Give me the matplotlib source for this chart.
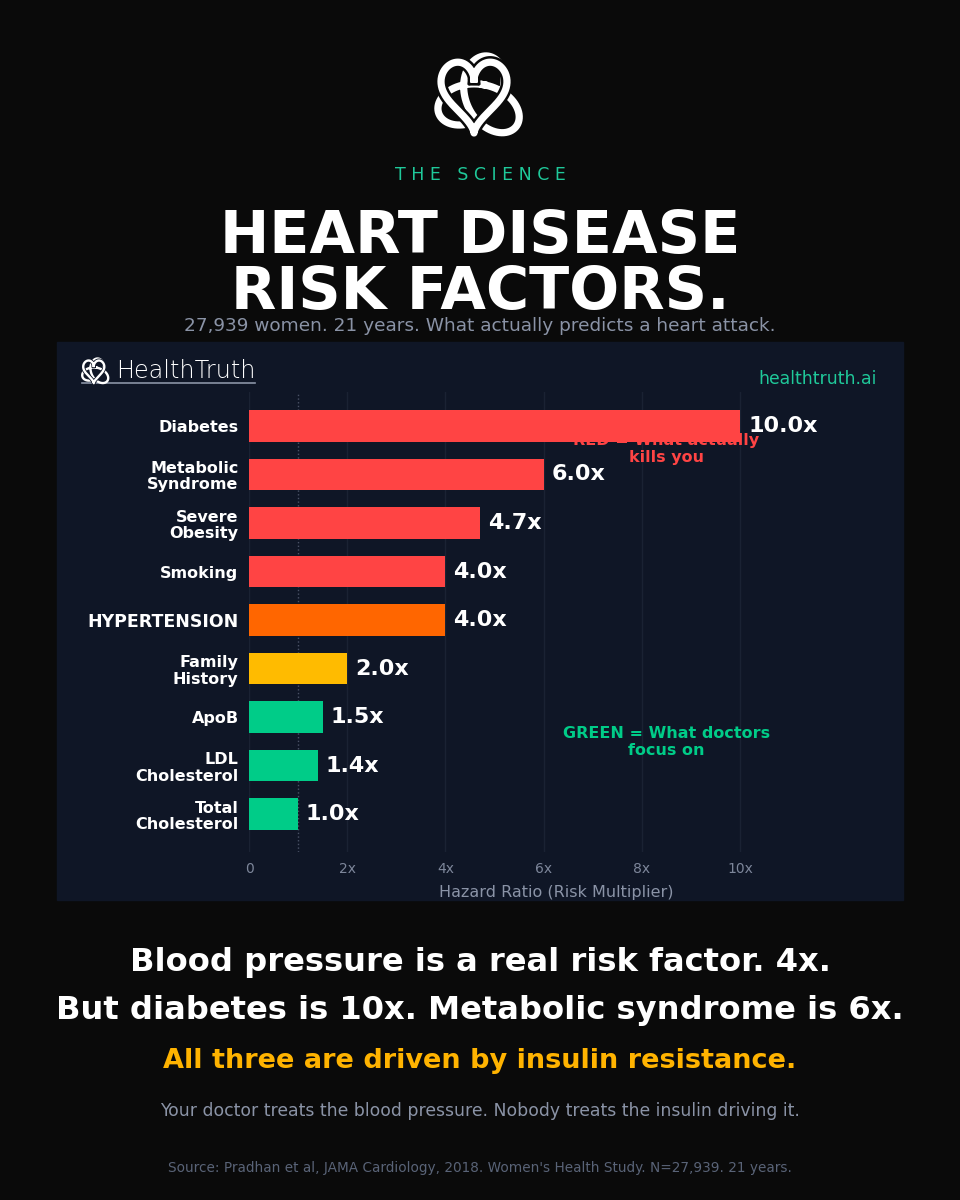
import numpy as np
import matplotlib.pyplot as plt
from matplotlib.patches import Rectangle
import matplotlib.patheffects as pe

plt.rcParams['font.family'] = ['DejaVu Sans']

# ---------------- data ----------------
categories = ["Diabetes", "Metabolic\nSyndrome", "Severe\nObesity", "Smoking",
              "HYPERTENSION", "Family\nHistory", "ApoB", "LDL\nCholesterol",
              "Total\nCholesterol"]
values = [10.0, 6.0, 4.7, 4.0, 4.0, 2.0, 1.5, 1.4, 1.0]
bar_colors = ['#ff4444', '#ff4444', '#ff4444', '#ff4444', '#ff6600',
              '#ffbb00', '#00cc88', '#00cc88', '#00cc88']
tick_vals = [0, 2, 4, 6, 8, 10]
tick_labels = ["0", "2x", "4x", "6x", "8x", "10x"]

BG = '#0a0a0a'
PANEL = '#0f1626'
W, H = 960, 1200


def fy(px):
    return 1 - px / H


def fx(px):
    return px / W


fig = plt.figure(figsize=(9.6, 12), dpi=100, facecolor=BG)

# panel
fig.add_artist(Rectangle((fx(57), fy(900)), 846 / W, 558 / H,
                         transform=fig.transFigure, color=PANEL, zorder=0))

# ---------------- logo (decorative) ----------------
over = fig.add_axes([0, 0, 1, 1], zorder=10)
over.set_xlim(0, W)
over.set_ylim(H, 0)
over.axis('off')
over.patch.set_alpha(0)


def draw_logo(cx, cy, s, lw, bg):
    t = np.linspace(0, 2 * np.pi, 600)
    # trefoil (triquetra-like) with lobes up, lower-left, lower-right
    tx = -(np.sin(t) + 2 * np.sin(2 * t)) * 15.0
    ty = -(np.cos(t) - 2 * np.cos(2 * t)) * 14.5
    a = np.deg2rad(10)
    rx = tx * np.cos(a) + ty * np.sin(a)
    ry = -tx * np.sin(a) + ty * np.cos(a)
    over.plot(cx + s * rx, cy - s * ry + s * 4, color='white', lw=lw,
              solid_joinstyle='round')
    # heart
    hx = np.sin(t) ** 3
    hy = (13 * np.cos(t) - 5 * np.cos(2 * t) - 2 * np.cos(3 * t) - np.cos(4 * t))
    px = cx - 7 * s + s * 33 * hx
    py = cy - 33 * s + s * (12 - hy) / 29 * 71
    over.plot(px, py, color='white', lw=lw, solid_joinstyle='round',
              path_effects=[pe.Stroke(linewidth=lw * 1.7, foreground=bg), pe.Normal()])


draw_logo(481, 95, 1.0, 5.2, BG)
draw_logo(96, 371, 0.32, 1.7, PANEL)

# ---------------- header texts ----------------
fig.text(0.5, fy(175), "T H E   S C I E N C E", color='#1fc99a', fontsize=12.5,
         ha='center', va='center')
fig.text(0.5, fy(236), "HEART DISEASE", color='white', fontsize=42.4, fontweight='bold',
         ha='center', va='center')
fig.text(0.5, fy(293), "RISK FACTORS.", color='white', fontsize=42.4, fontweight='bold',
         ha='center', va='center')
fig.text(0.5, fy(326), "27,939 women. 21 years. What actually predicts a heart attack.",
         color='#8a93a6', fontsize=13.3, ha='center', va='center')

# panel header
fig.text(fx(116), fy(371), "HealthTruth", color='white', fontsize=17.2, fontweight='light',
         ha='left', va='center')
fig.add_artist(plt.Line2D([fx(82), fx(255)], [fy(383), fy(383)], color='#8a93a6', lw=1.2,
                          transform=fig.transFigure))
fig.text(fx(877), fy(379), "healthtruth.ai", color='#1fc99a', fontsize=12.4,
         ha='right', va='center')

# ---------------- chart ----------------
ax = fig.add_axes([fx(249), fy(852), (863 - 249) / W, (852 - 392) / H])
ax.set_facecolor(PANEL)
y = np.arange(len(categories))
ax.barh(y, values, height=0.65, color=bar_colors, zorder=3)
for yi, v in zip(y, values):
    ax.text(v + 0.16, yi, f"{v:.1f}x", color='white', fontsize=16, fontweight='bold',
            ha='left', va='center', zorder=4)

ax.set_xlim(0, 12.5)
ax.set_ylim(8.78, -0.7)
ax.set_xticks(tick_vals)
ax.set_xticklabels(tick_labels)
ax.set_yticks(y)
ax.set_yticklabels(categories)
for lab in ax.get_yticklabels():
    lab.set_fontweight('bold')
    lab.set_color('white')
    if lab.get_text() == "HYPERTENSION":
        lab.set_fontsize(12.5)
    else:
        lab.set_fontsize(11.5)
    lab.set_linespacing(1.12)
ax.tick_params(axis='y', length=0, pad=7.5)
ax.tick_params(axis='x', length=0, pad=7, labelcolor='#7d869a', labelsize=10)
for s in ax.spines.values():
    s.set_visible(False)
ax.grid(axis='x', color='#1a2233', lw=1, zorder=0)
ax.set_axisbelow(True)
ax.axvline(1.0, color='#4a5266', ls=':', lw=1, zorder=1)
ax.set_xlabel("Hazard Ratio (Risk Multiplier)", color='#8a93a6', fontsize=11.5, labelpad=7)

ax.text(8.5, 0.48, "RED = What actually\nkills you", color='#ff4444', fontsize=11.5,
        fontweight='bold', ha='center', va='center', zorder=2, linespacing=1.15)
ax.text(8.5, 6.52, "GREEN = What doctors\nfocus on", color='#00cc88', fontsize=11.5,
        fontweight='bold', ha='center', va='center', zorder=2, linespacing=1.15)

# ---------------- bottom texts ----------------
fig.text(0.5, fy(962), "Blood pressure is a real risk factor. 4x.", color='white',
         fontsize=23.1, fontweight='bold', ha='center', va='center')
fig.text(0.5, fy(1010), "But diabetes is 10x. Metabolic syndrome is 6x.", color='white',
         fontsize=23.1, fontweight='bold', ha='center', va='center')
fig.text(0.5, fy(1061), "All three are driven by insulin resistance.", color='#ffb300',
         fontsize=19.5, fontweight='bold', ha='center', va='center')
fig.text(0.5, fy(1111), "Your doctor treats the blood pressure. Nobody treats the insulin driving it.",
         color='#8a93a6', fontsize=12.4, ha='center', va='center')
fig.text(0.5, fy(1168), "Source: Pradhan et al, JAMA Cardiology, 2018. Women's Health Study. N=27,939. 21 years.",
         color='#596377', fontsize=9.8, ha='center', va='center')

fig.savefig("out.png", dpi=100, facecolor=BG)
